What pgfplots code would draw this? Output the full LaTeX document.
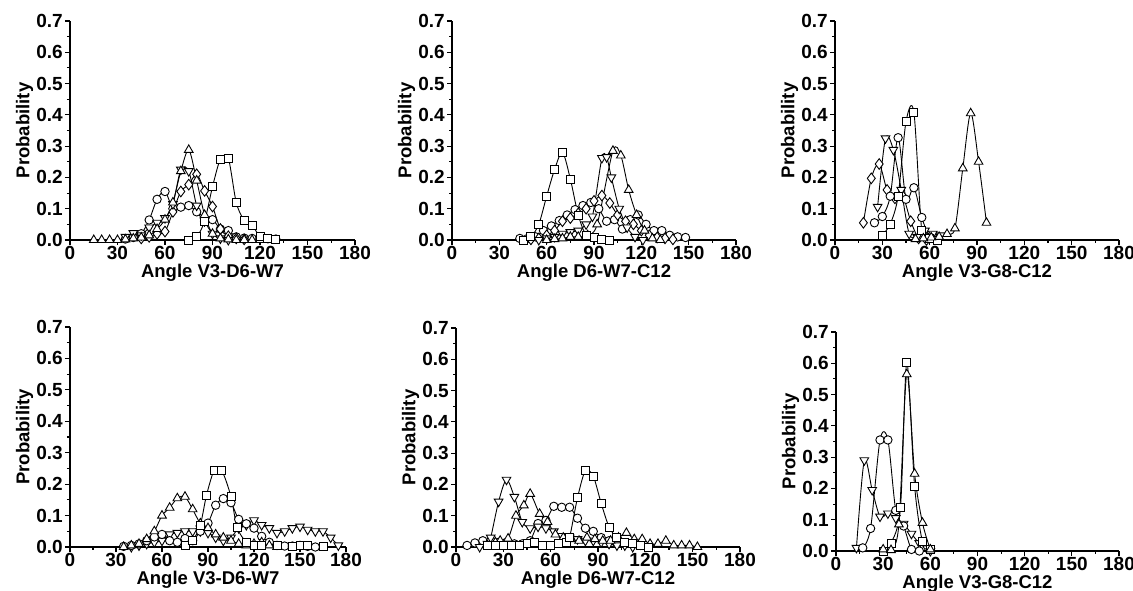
\documentclass[border=0pt]{standalone}
\usepackage{fontspec}
\setmainfont{Liberation Sans}
\usepackage{pgfplots}
\pgfplotsset{compat=1.18}

\pgfplotsset{
  panel/.style={
    scale only axis, anchor=south west,
    xmin=0, xmax=180, ymin=0, ymax=0.7,
    axis lines*=left,
    axis line style={line width=1.3pt, -},
    xtick={0,30,60,90,120,150,180}, minor x tick num=1,
    ytick={0,0.1,0.2,0.3,0.4,0.5,0.6,0.7}, minor y tick num=1,
    tick align=outside, major tick length=5pt, minor tick length=3pt,
    every tick/.style={black, line width=1.1pt},
    scaled y ticks=false,
    /pgf/number format/assume math mode=true,
    tick label style={font=\bfseries\fontsize{19}{21}\selectfont},
    xticklabel style={inner sep=1pt},
    yticklabel style={inner sep=2pt, /pgf/number format/.cd, fixed, fixed zerofill, precision=1},
    label style={font=\bfseries\fontsize{18.5}{21}\selectfont},
    xlabel style={inner sep=0pt, yshift=-3.5pt},
    ylabel style={inner sep=1pt},
    ylabel={Probability},
    clip=false,
  },
  sq/.style={black, line width=0.9pt, smooth, mark=square*, mark size=4pt, mark options={fill=white}},
  ci/.style={black, line width=0.9pt, smooth, mark=*, mark size=4.2pt, mark options={fill=white}},
  tu/.style={black, line width=0.9pt, smooth, mark=triangle*, mark size=5pt, mark options={fill=white}},
  td/.style={black, line width=0.9pt, smooth, mark=triangle*, mark size=5pt, mark options={fill=white, rotate=180}},
  di/.style={black, line width=0.9pt, smooth, mark=diamond*, mark size=5.3pt, mark options={fill=white}},
}

\begin{document}
\begin{tikzpicture}
\path[use as bounding box] (0,0) rectangle (1133pt,591pt);

% top left
\begin{axis}[panel, at={(70pt,351pt)}, width=285pt, height=219pt, xlabel={Angle V3-D6-W7}]
\addplot[ci] coordinates {(35,0.003) (40,0.008) (45,0.02) (50,0.064) (55,0.13) (60,0.155) (65,0.1) (70,0.105) (75,0.11) (80,0.09) (85,0.06) (90,0.065) (95,0.035) (100,0.03) (105,0.01) (110,0.006) (115,0.005) (120,0.005) (125,0.004) (130,0.003)};
\addplot[di] coordinates {(45,0.005) (50,0.01) (55,0.02) (60,0.027) (65,0.09) (70,0.155) (75,0.177) (80,0.21) (85,0.157) (90,0.107) (95,0.035) (100,0.012) (105,0.005) (110,0.002)};
\addplot[td] coordinates {(35,0.01) (40,0.022) (45,0.015) (50,0.04) (55,0.055) (60,0.07) (65,0.115) (70,0.225) (75,0.22) (80,0.11) (85,0.06) (90,0.02) (95,0.005) (100,0)};
\addplot[tu] coordinates {(15,0) (20,0) (25,0) (30,0) (35,0.002) (40,0.005) (45,0.008) (50,0.015) (55,0.035) (60,0.065) (65,0.12) (70,0.22) (75,0.288) (80,0.19) (85,0.08) (90,0.02) (95,0.005) (100,0.002) (105,0) (110,0) (115,0) (120,0)};
\addplot[sq] coordinates {(75,0) (80,0.01) (85,0.06) (90,0.17) (95,0.258) (100,0.261) (105,0.12) (110,0.063) (115,0.046) (120,0.012) (125,0.005) (130,0.002)};
\end{axis}

% top middle
\begin{axis}[panel, at={(452pt,351pt)}, width=284pt, height=219pt, xlabel={Angle D6-W7-C12}]
\addplot[ci] coordinates {(43,0.005) (48,0.005) (53,0.01) (58,0.03) (63,0.045) (68,0.062) (73,0.08) (78,0.097) (83,0.11) (88,0.12) (93,0.1) (98,0.06) (103,0.065) (108,0.035) (113,0.065) (118,0.08) (123,0.05) (128,0.03) (133,0.03) (138,0.015) (143,0.01) (148,0.008)};
\addplot[di] coordinates {(50,0.002) (55,0.005) (60,0.015) (65,0.03) (70,0.06) (75,0.07) (80,0.085) (85,0.1) (90,0.125) (95,0.142) (100,0.118) (105,0.08) (110,0.06) (115,0.05) (120,0.03) (125,0.015) (130,0.008) (135,0.005) (140,0.002)};
\addplot[td] coordinates {(55,0) (60,0.005) (65,0.01) (70,0.02) (75,0.025) (80,0.03) (85,0.05) (89,0.075) (95,0.262) (98,0.265) (101,0.2) (106,0.1) (111,0.04) (116,0.01) (121,0)};
\addplot[tu] coordinates {(60,0) (65,0.003) (70,0.005) (75,0.01) (80,0.01) (86,0.015) (92,0.05) (102,0.285) (107,0.27) (112,0.16) (117,0.08) (122,0.03) (127,0.005) (132,0)};
\addplot[sq] coordinates {(45,0) (50,0.01) (55,0.05) (60,0.14) (65,0.225) (70,0.28) (75,0.195) (80,0.08) (85,0.015) (90,0.008) (95,0.003) (100,0)};
\end{axis}

% top right
\begin{axis}[panel, at={(835pt,351pt)}, width=284pt, height=219pt, xlabel={Angle V3-G8-C12}]
\addplot[di] coordinates {(18,0.055) (23,0.197) (28,0.243) (33,0.16) (38,0.133) (43,0.14) (48,0.06) (53,0.005) (58,0)};
\addplot[td] coordinates {(27,0.106) (32,0.325) (37,0.288) (42,0.16) (47,0.02) (52,0.01) (57,0.03) (62,0.02) (67,0.015)};
\addplot[ci] coordinates {(25,0.055) (30,0.075) (35,0.14) (40,0.327) (45,0.13) (50,0.167) (55,0.072) (60,0.009) (65,0.002)};
\addplot[sq] coordinates {(30,0.016) (35,0.051) (40,0.14) (45,0.378) (50,0.408) (55,0.03) (60,0.005) (65,0)};
\addplot[tu] coordinates {(51,0.003) (56,0.005) (61,0.008) (66,0.01) (71,0.019) (76,0.037) (81,0.229) (86,0.405) (91,0.25) (96,0.055)};
\end{axis}

% bottom left
\begin{axis}[panel, at={(70pt,44pt)}, width=276pt, height=220pt, xlabel={Angle V3-D6-W7}]
\addplot[td] coordinates {(40,0) (45,0.005) (50,0.01) (55,0.015) (60,0.02) (65,0.04) (70,0.045) (75,0.05) (80,0.05) (85,0.05) (90,0.045) (95,0.03) (100,0.02) (105,0.03) (110,0.06) (115,0.07) (120,0.085) (125,0.07) (130,0.06) (135,0.045) (140,0.05) (145,0.06) (150,0.065) (155,0.055) (160,0.05) (165,0.05) (170,0.03) (175,0.005)};
\addplot[ci] coordinates {(35,0.002) (40,0.005) (45,0.01) (50,0.02) (55,0.032) (60,0.04) (65,0.02) (70,0.015) (75,0.027) (80,0.02) (85,0.05) (90,0.076) (95,0.133) (100,0.154) (105,0.141) (110,0.088) (115,0.074) (120,0.06) (125,0.034) (130,0.015) (135,0.005) (140,0.003) (145,0.003) (150,0.005) (155,0.002) (160,0)};
\addplot[tu] coordinates {(35,0) (40,0.005) (45,0.01) (50,0.025) (55,0.05) (60,0.1) (65,0.125) (70,0.155) (75,0.16) (80,0.12) (85,0.075) (90,0.06) (95,0.04) (100,0.03) (105,0.02) (110,0.01) (115,0.005) (120,0.01) (125,0.015) (130,0.005) (135,0)};
\addplot[sq] coordinates {(75,0.005) (80,0.02) (85,0.07) (89,0.164) (94,0.243) (99,0.243) (105,0.16) (109,0.062) (115,0.015) (120,0.005) (125,0.005) (135,0.004) (145,0.003) (150,0.005) (155,0.004) (165,0.003)};
\end{axis}

% bottom middle
\begin{axis}[panel, at={(456pt,44pt)}, width=284pt, height=219pt, xlabel={Angle D6-W7-C12}]
\addplot[ci] coordinates {(7,0.005) (12,0.013) (17,0.02) (22,0.02) (27,0.015) (32,0.015) (37,0.01) (42,0.01) (47,0.02) (52,0.075) (57,0.085) (62,0.13) (67,0.127) (72,0.127) (77,0.092) (82,0.06) (87,0.05) (92,0.03) (97,0.02) (102,0.01) (107,0.01) (112,0.01) (117,0.005) (122,0)};
\addplot[td] coordinates {(15,0) (20,0.01) (22,0.03) (27,0.145) (32,0.215) (37,0.16) (42,0.08) (47,0.06) (52,0.065) (57,0.06) (62,0.05) (67,0.035) (72,0.03) (77,0.025) (82,0.02) (87,0.02) (92,0.015) (97,0.01) (102,0.005) (107,0.005) (112,0)};
\addplot[tu] coordinates {(20,0.005) (25,0.015) (28,0.02) (33,0.027) (38,0.1) (43,0.133) (47,0.17) (53,0.106) (58,0.08) (63,0.04) (68,0.03) (73,0.025) (78,0.02) (83,0.03) (88,0.025) (93,0.02) (98,0.02) (103,0.03) (108,0.045) (113,0.025) (118,0.025) (123,0.01) (128,0.01) (133,0.02) (138,0.005) (143,0.005) (148,0.005) (153,0)};
\addplot[sq] coordinates {(20,0.005) (25,0.005) (30,0.005) (35,0.005) (40,0.005) (45,0.01) (50,0.015) (55,0.005) (60,0.005) (65,0.01) (70,0.015) (72,0.03) (77,0.157) (82,0.244) (87,0.226) (92,0.14) (97,0.064) (102,0.03) (107,0.015) (112,0.01) (117,0.005) (122,0)};
\end{axis}

% bottom right
\begin{axis}[panel, at={(836pt,40pt)}, width=283pt, height=219pt, xlabel={Angle V3-G8-C12}]
\addplot[td] coordinates {(13,0.01) (18,0.29) (23,0.195) (28,0.11) (33,0.12) (38,0.105) (43,0.087) (48,0.055) (53,0.025) (58,0.008) (60,0)};
\addplot[ci] coordinates {(17,0.01) (22,0.072) (28,0.355) (33,0.355) (38,0.13) (43,0.08) (48,0.005) (53,0)};
\addplot[sq] coordinates {(30,0) (35,0.025) (41,0.14) (45,0.604) (50,0.207) (55,0.03) (60,0.005)};
\addplot[tu] coordinates {(30,0.005) (35,0.003) (40,0.085) (45,0.565) (50,0.247) (55,0.09) (60,0.005)};
\end{axis}
\end{tikzpicture}
\end{document}
